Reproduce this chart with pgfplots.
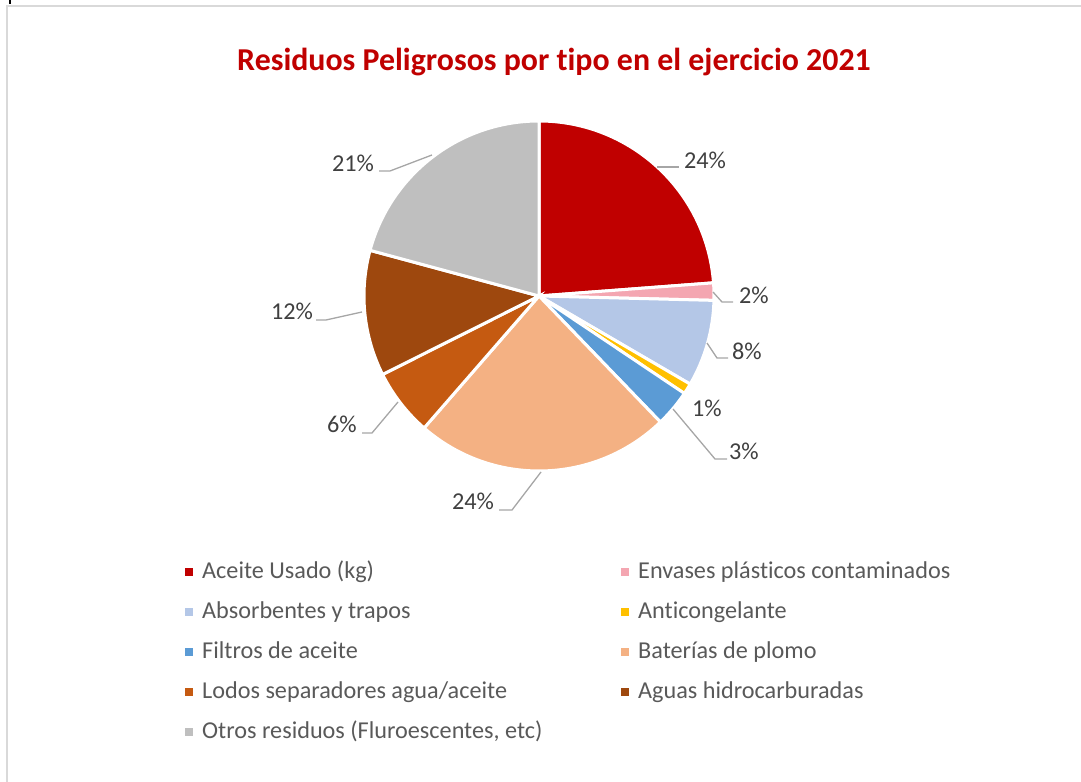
\documentclass[border=0pt]{standalone}
\usepackage{pgfplots}
\pgfplotsset{compat=1.18}
\usepackage{pgfplotstable}
\usepackage{fontspec}
\setmainfont{Carlito}[Ligatures=NoCommon]

\definecolor{slice0}{HTML}{C00000}% Aceite usado
\definecolor{slice1}{HTML}{F4A6B1}% Envases
\definecolor{slice2}{HTML}{B4C7E7}% Absorbentes
\definecolor{slice3}{HTML}{FFC000}% Anticongelante
\definecolor{slice4}{HTML}{5B9BD5}% Filtros
\definecolor{slice5}{HTML}{F4B183}% Baterias
\definecolor{slice6}{HTML}{C55A11}% Lodos
\definecolor{slice7}{HTML}{9E480E}% Aguas
\definecolor{slice8}{HTML}{BFBFBF}% Otros
\definecolor{titlered}{HTML}{C00000}
\definecolor{labelgray}{HTML}{404040}
\definecolor{legendgray}{HTML}{595959}
\definecolor{leadergray}{HTML}{A6A6A6}
\definecolor{framegray}{HTML}{D9D9D9}

% share of each type of waste, per cent, clockwise from 12 o'clock
\pgfplotstableread{
idx value
0 23.8
1 1.6
2 8.0
3 1.0
4 3.4
5 23.6
6 6.2
7 11.6
8 20.8
}\residuos

\begin{document}
\begin{tikzpicture}
\begin{axis}[
    width=1081bp, height=782bp, scale only axis,
    xmin=0, xmax=1081, ymin=0, ymax=782,
    enlargelimits=false,
    hide axis, clip=false,
    legend columns=2,
    legend cell align=left,
    legend image code/.code={%
      \path[draw=none, fill=none] (0bp,-4bp) rectangle (17bp,4bp);
      \fill[#1, draw=none] (0bp,-4bp) rectangle (8bp,4bp);},
    legend style={at={(axis cs:185,221)}, anchor=north west,
      draw=none, fill=none, inner sep=0pt,
      column sep=0pt, row sep=18bp,
      font=\fontsize{24.3}{28}\selectfont, text=legendgray,
      nodes={inner sep=0pt, text height=17bp, text depth=5bp}},
]
\coordinate (BL) at (axis cs:0,0);
\coordinate (TR) at (axis cs:1081,782);

% chart frame
\draw[framegray, line width=1.2bp] (axis cs:7,-20) -- (axis cs:7,776) -- (axis cs:1100,776);
\draw[black, line width=2bp] (axis cs:10,782) -- (axis cs:10,778);

% slices
\pgfmathsetmacro\angA{90}
\pgfplotsforeachungrouped \i in {0,...,8}{%
  \pgfplotstablegetelem{\i}{value}\of\residuos
  \pgfmathsetmacro\angB{\angA-3.6*\pgfplotsretval}
  \edef\doslice{\noexpand\fill[fill=slice\i, draw=white, line width=3bp]
    (axis cs:539,486) -- ++(\angA:175bp)
    arc[start angle=\angA, end angle=\angB, radius=175bp] -- cycle;}
  \doslice
  \global\let\angA\angB
}

% title
\node[anchor=base, text=titlered, font=\fontsize{32}{38}\selectfont\bfseries]
  at (axis cs:554,711) {Residuos Peligrosos por tipo en el ejercicio 2021};

% leader lines
\draw[leadergray, line width=1.3bp] (axis cs:657,615) -- (axis cs:679,615);
\draw[leadergray, line width=1.3bp] (axis cs:713,490) -- (axis cs:722,480) -- (axis cs:733,480);
\draw[leadergray, line width=1.3bp] (axis cs:707,439) -- (axis cs:717,424) -- (axis cs:728,424);
\draw[leadergray, line width=1.3bp] (axis cs:673,373) -- (axis cs:715,323) -- (axis cs:727,323);
\draw[leadergray, line width=1.3bp] (axis cs:541,310) -- (axis cs:512,272) -- (axis cs:499,272);
\draw[leadergray, line width=1.3bp] (axis cs:398,380) -- (axis cs:372,349) -- (axis cs:362,349);
\draw[leadergray, line width=1.3bp] (axis cs:362,470) -- (axis cs:326,462) -- (axis cs:316,462);
\draw[leadergray, line width=1.3bp] (axis cs:432,627) -- (axis cs:390,611) -- (axis cs:379,611);

% data labels
\begin{scope}[every node/.style={anchor=base, text=labelgray, font=\fontsize{24.3}{28}\selectfont}]
\node at (axis cs:705,613) {24\%};
\node at (axis cs:754,478) {2\%};
\node at (axis cs:747,422) {8\%};
\node at (axis cs:707,365) {1\%};
\node at (axis cs:744,322) {3\%};
\node at (axis cs:473,272) {24\%};
\node at (axis cs:342,349) {6\%};
\node at (axis cs:292,462) {12\%};
\node at (axis cs:353,610) {21\%};
\end{scope}

% legend
\addlegendimage{draw=none, fill=slice0}\addlegendentry{\makebox[419bp][l]{Aceite Usado (kg)}}
\addlegendimage{draw=none, fill=slice1}\addlegendentry{Envases plásticos contaminados}
\addlegendimage{draw=none, fill=slice2}\addlegendentry{\makebox[419bp][l]{Absorbentes y trapos}}
\addlegendimage{draw=none, fill=slice3}\addlegendentry{Anticongelante}
\addlegendimage{draw=none, fill=slice4}\addlegendentry{\makebox[419bp][l]{Filtros de aceite}}
\addlegendimage{draw=none, fill=slice5}\addlegendentry{Baterías de plomo}
\addlegendimage{draw=none, fill=slice6}\addlegendentry{\makebox[419bp][l]{Lodos separadores agua/aceite}}
\addlegendimage{draw=none, fill=slice7}\addlegendentry{Aguas hidrocarburadas}
\addlegendimage{draw=none, fill=slice8}\addlegendentry{\makebox[419bp][l]{Otros residuos (Fluroescentes, etc)}}
\end{axis}
\pgfresetboundingbox
\path[use as bounding box] (BL) rectangle (TR);
\end{tikzpicture}
\end{document}
